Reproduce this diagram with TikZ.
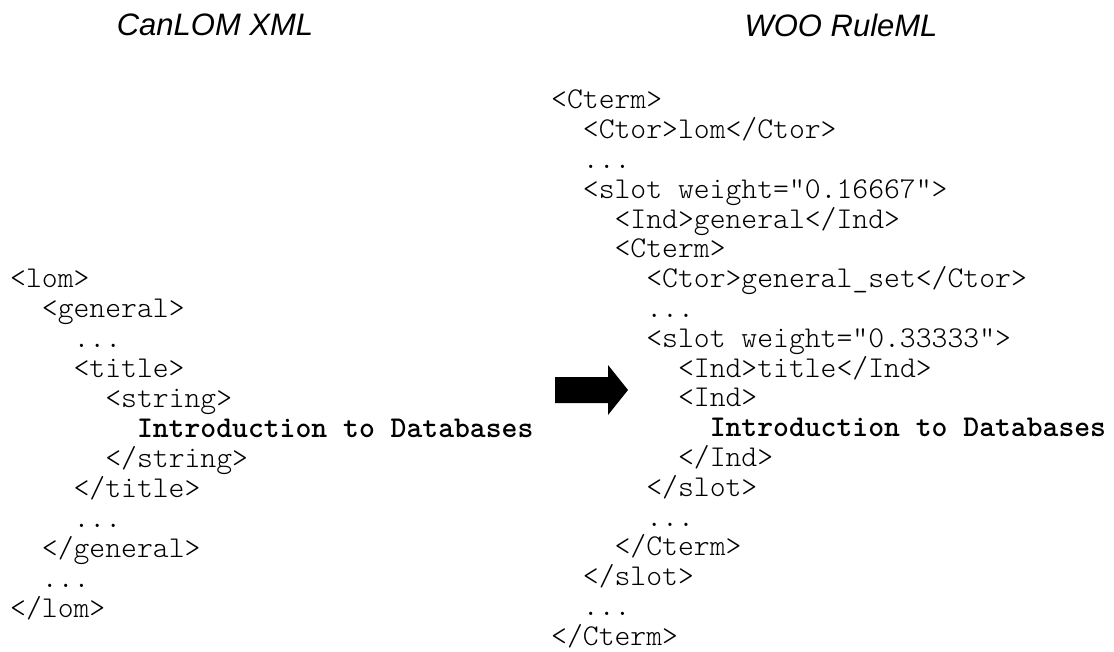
\documentclass[tikz,border=0pt]{standalone}
\usepackage{fontspec}
\setmainfont{Liberation Sans}
\usetikzlibrary{positioning}

% indent by n characters of the current mono font
\newcommand{\ind}[1]{\hspace*{#1\fontcharwd\font`x}}

\tikzset{
  heading/.style={font=\fontsize{31}{36}\selectfont\itshape, inner sep=0pt},
  listing/.style={font=\fontsize{30.2}{#1}\selectfont\ttfamily\fontseries{l}\selectfont,
    align=left, inner sep=0pt, anchor=north west},
  listing/.default=30,
}

\begin{document}
\begin{tikzpicture}[x=1pt, y=-1pt]
  \useasboundingbox (0,0) rectangle (1114,652);

  % headings
  \node[heading] (canlomhead) at (215,25) {CanLOM XML};
  \node[heading] (woohead) at (841,25) {WOO RuleML};

  % CanLOM XML listing
  \node[listing] (canlom) at (10,269) {%
    <lom>\\
    \ind{2}<general>\\
    \ind{4}...\\
    \ind{4}<title>\\
    \ind{6}<string>\\
    \ind{8}\textbf{Introduction to Databases}\\
    \ind{6}</string>\\
    \ind{4}</title>\\
    \ind{4}...\\
    \ind{2}</general>\\
    \ind{2}...\\
    </lom>};

  % WOO RuleML listing
  \node[listing=29.8] (ruleml) at (551,90) {%
    <Cterm>\\
    \ind{2}<Ctor>lom</Ctor>\\
    \ind{2}...\\
    \ind{2}<slot weight="0.16667">\\
    \ind{4}<Ind>general</Ind>\\
    \ind{4}<Cterm>\\
    \ind{6}<Ctor>general\_set</Ctor>\\
    \ind{6}...\\
    \ind{6}<slot weight="0.33333">\\
    \ind{8}<Ind>title</Ind>\\
    \ind{8}<Ind>\\
    \ind{10}\textbf{Introduction to Databases}\\
    \ind{8}</Ind>\\
    \ind{6}</slot>\\
    \ind{6}...\\
    \ind{4}</Cterm>\\
    \ind{2}</slot>\\
    \ind{2}...\\
    </Cterm>};

  % block arrow between the listings
  \fill (555,377) -- (608,377) -- (608,365) -- (628,390)
    -- (608,415) -- (608,403) -- (555,403) -- cycle;
\end{tikzpicture}
\end{document}
